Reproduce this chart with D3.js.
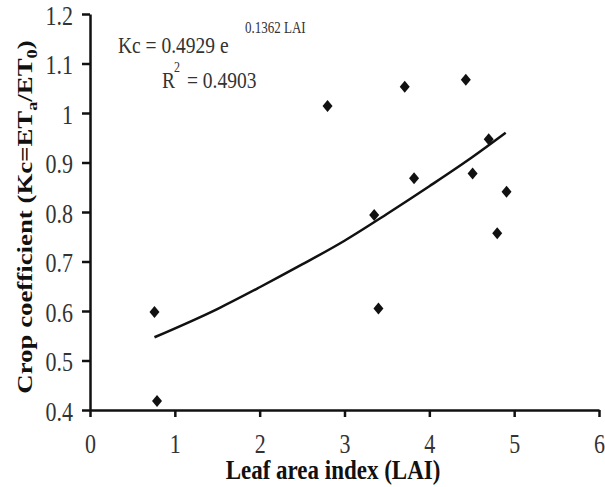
<!DOCTYPE html>
<html>
<head>
<meta charset="utf-8">
<script src="https://cdn.jsdelivr.net/npm/d3@7"></script>
<style>
  body { margin: 0; background: #fff; }
  svg { display: block; }
</style>
</head>
<body>
<svg id="chart"></svg>
<script>
// observed points (LAI, Kc)
const lai = [0.76, 0.79, 2.80, 3.35, 3.40, 3.71, 3.82, 4.43, 4.51, 4.70, 4.80, 4.91];
const kc = [0.598, 0.418, 1.014, 0.794, 0.605, 1.053, 0.868, 1.067, 0.878, 0.947, 0.757, 0.841];

// trend line
const trendLai = [0.76, 1.5, 2.0, 2.5, 3.0, 3.5, 4.0, 4.5, 4.9];
const trendKc = [0.547, 0.604, 0.648, 0.694, 0.742, 0.796, 0.852, 0.910, 0.960];

const xTicks = [0, 1, 2, 3, 4, 5, 6];
const yTicks = [0.4, 0.5, 0.6, 0.7, 0.8, 0.9, 1, 1.1, 1.2];

const WIDTH = 605;
const HEIGHT = 487;
const FONT = 'Liberation Serif, DejaVu Serif, serif';
// the original export is stretched vertically, text included
const STRETCH = 1.22;
const margin = { left: 90, right: 6, top: 14, bottom: 77 };

const svg = d3.select('#chart')
  .attr('width', WIDTH)
  .attr('height', HEIGHT)
  .attr('font-family', FONT);

const x = d3.scaleLinear().domain([0, 6]).range([margin.left, WIDTH - margin.right]);
const y = d3.scaleLinear().domain([0.4, 1.2]).range([HEIGHT - margin.bottom, margin.top]);

// axes
const xAxis = svg.append('g')
  .attr('transform', 'translate(0,' + y(0.4) + ')')
  .call(d3.axisBottom(x).tickValues(xTicks).tickFormat(d3.format('d')).tickSize(7).tickSizeOuter(0));
const yAxis = svg.append('g')
  .attr('transform', 'translate(' + x(0) + ',0)')
  .call(d3.axisLeft(y).tickValues(yTicks).tickFormat(d => String(d)).tickSize(8).tickSizeOuter(0));

[xAxis, yAxis].forEach(a => {
  a.attr('font-family', FONT).attr('font-size', 22);
  a.select('.domain').attr('stroke', '#111').attr('stroke-width', 2.5);
  a.selectAll('.tick line').attr('stroke', '#111').attr('stroke-width', 2.5);
  a.selectAll('.tick text').attr('fill', '#333').attr('dy', null);
});
xAxis.selectAll('.tick text')
  .attr('y', 43 / STRETCH)
  .attr('transform', 'scale(1,' + STRETCH + ')');
yAxis.selectAll('.tick text')
  .attr('x', -17)
  .attr('y', 10 / STRETCH)
  .attr('transform', 'scale(1,' + STRETCH + ')');

// axis titles
svg.append('text')
  .attr('transform', 'translate(333,479) scale(1,' + STRETCH + ')')
  .attr('text-anchor', 'middle')
  .attr('font-weight', 'bold')
  .attr('font-size', 23)
  .attr('fill', '#111')
  .text('Leaf area index (LAI)');

const yTitle = svg.append('text')
  .attr('transform', 'translate(32,217) rotate(-90) scale(' + STRETCH + ',1)')
  .attr('text-anchor', 'middle')
  .attr('font-weight', 'bold')
  .attr('font-size', 22)
  .attr('fill', '#111');
yTitle.append('tspan').text('Crop coefficient (Kc=ET');
yTitle.append('tspan').attr('font-size', 15).attr('dy', 5).text('a');
yTitle.append('tspan').attr('dy', -5).text('/ET');
yTitle.append('tspan').attr('font-size', 15).attr('dy', 5).text('0');
yTitle.append('tspan').attr('dy', -5).text(')');

// trend line
const trend = trendLai.map((v, i) => [v, trendKc[i]]);
svg.append('path')
  .datum(trend)
  .attr('fill', 'none')
  .attr('stroke', '#111')
  .attr('stroke-width', 2.5)
  .attr('d', d3.line().x(d => x(d[0])).y(d => y(d[1])).curve(d3.curveMonotoneX));

// points
const points = lai.map((v, i) => ({ lai: v, kc: kc[i] }));
svg.append('g').selectAll('path')
  .data(points)
  .enter().append('path')
  .attr('transform', d => 'translate(' + x(d.lai) + ',' + y(d.kc) + ')')
  .attr('d', 'M0,-6L5,0L0,6L-5,0Z')
  .attr('fill', '#111');

// equation and R squared
function label (px, py, size) {
  return svg.append('text')
    .attr('transform', 'translate(' + px + ',' + py + ') scale(1,' + STRETCH + ')')
    .attr('font-size', size)
    .attr('fill', '#333');
}
label(118, 53, 19.5).text('Kc = 0.4929 e');
label(245, 33, 13).text('0.1362 LAI');
label(162, 88, 19.5).text('R');
label(174, 72, 12).text('2');
label(187, 88, 19.5).text('= 0.4903');
</script>
</body>
</html>
